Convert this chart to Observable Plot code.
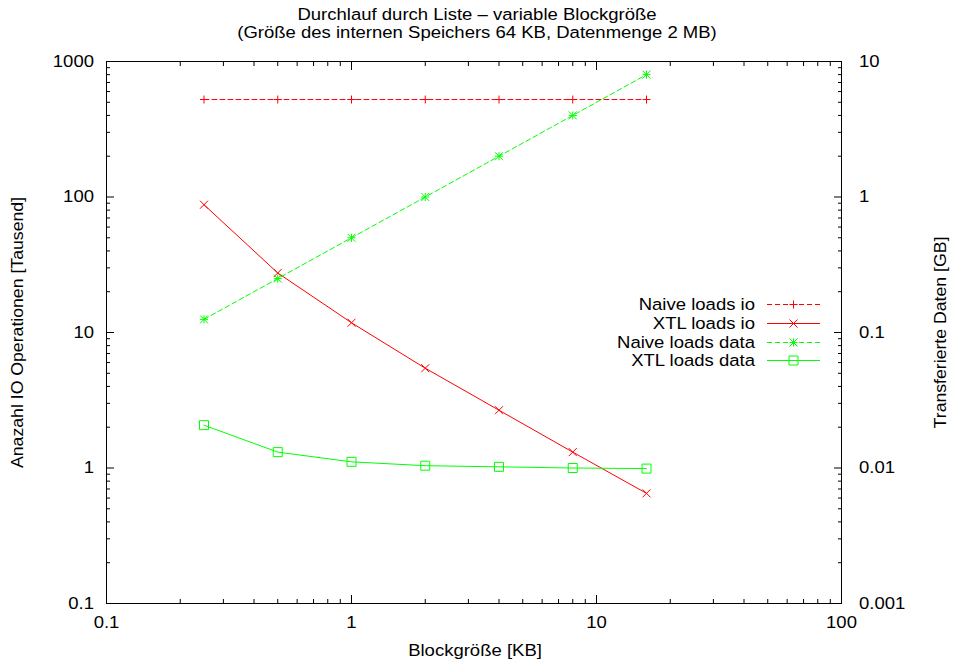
<!DOCTYPE html>
<html>
<head>
<meta charset="utf-8">
<script src="https://cdn.jsdelivr.net/npm/d3@7"></script>
<script src="https://cdn.jsdelivr.net/npm/@observablehq/plot@0.6"></script>
<style>
  body { margin: 0; background: #fff; }
  #chart { position: relative; width: 955px; height: 665px; }
  #chart svg { font-family: "Liberation Sans", Arial, Helvetica, sans-serif; }
  #legend { position: absolute; left: 0; top: 0; }
</style>
</head>
<body>
<div id="chart"></div>
<script>
// Block sizes in KB
const blockSizes = [0.25, 0.5, 1, 2, 4, 8, 16];
// IO operations in thousands (left axis)
const naiveLoadsIo = [524, 524, 524, 524, 524, 524, 524];
const xtlLoadsIo = [87.7, 27.5, 11.8, 5.45, 2.67, 1.31, 0.65];
// Transferred data in GB (right axis)
const naiveLoadsData = [0.125, 0.25, 0.5, 1, 2, 4, 8];
const xtlLoadsData = [0.0207, 0.0131, 0.0111, 0.0104, 0.0102, 0.0100, 0.0099];

const seriesNames = ["Naive loads io", "XTL loads io", "Naive loads data", "XTL loads data"];

// Axis ticks
const xTicks = [0.1, 1, 10, 100];
const yTicks = [0.1, 1, 10, 100, 1000];
const y2Ticks = [0.001, 0.01, 0.1, 1, 10];

const titleLines = [
  "Durchlauf durch Liste \u2013 variable Blockgr\u00f6\u00dfe",
  "(Gr\u00f6\u00dfe des internen Speichers 64 KB, Datenmenge 2 MB)"
];
const xLabel = "Blockgr\u00f6\u00dfe [KB]";
const yLabel = "Anazahl IO Operationen [Tausend]";
const y2Label = "Transferierte Daten [GB]";

// The right axis covers the same decades as the left one, shifted by a constant factor
const y2Factor = Math.round(yTicks[0] / y2Ticks[0]);

// Minor log ticks 2..9 within each decade
const minorOf = (majors) => majors.slice(0, -1).flatMap(d => d3.range(2, 10).map(k => +(k * d).toPrecision(3)));
const xMinor = minorOf(xTicks);
const yMinor = minorOf(yTicks);

// Point symbols (fixed pixel sizes)
const R = 4;
const symbols = {
  plus: {draw(c) { c.moveTo(-R, 0); c.lineTo(R, 0); c.moveTo(0, -R); c.lineTo(0, R); }},
  times: {draw(c) { c.moveTo(-R, -R); c.lineTo(R, R); c.moveTo(-R, R); c.lineTo(R, -R); }},
  star: {draw(c) {
    c.moveTo(-R, 0); c.lineTo(R, 0); c.moveTo(0, -R); c.lineTo(0, R);
    c.moveTo(-R, -R); c.lineTo(R, R); c.moveTo(-R, R); c.lineTo(R, -R);
  }},
  box: {draw(c) { const r = 4.5; c.moveTo(-r, -r); c.lineTo(r, -r); c.lineTo(r, r); c.lineTo(-r, r); c.closePath(); }}
};

const styles = [
  {name: seriesNames[0], values: naiveLoadsIo, scale: 1, color: "#ff0000", dash: "5,3", symbol: symbols.plus},
  {name: seriesNames[1], values: xtlLoadsIo, scale: 1, color: "#ff0000", dash: null, symbol: symbols.times},
  {name: seriesNames[2], values: naiveLoadsData, scale: y2Factor, color: "#00ff00", dash: "5,3", symbol: symbols.star},
  {name: seriesNames[3], values: xtlLoadsData, scale: y2Factor, color: "#00ff00", dash: null, symbol: symbols.box}
];

const FS = 17;
const seriesMarks = styles.flatMap(s => {
  const rows = blockSizes.map((b, i) => ({block: b, value: s.values[i]}));
  const y = d => d.value * s.scale;
  return [
    Plot.line(rows, {x: "block", y, stroke: s.color, strokeWidth: 1, strokeDasharray: s.dash}),
    Plot.dot(rows, {x: "block", y, symbol: s.symbol, stroke: s.color, fill: "none", strokeWidth: 1})
  ];
});

const tickAxes = [
  // inward ticks on all four sides
  Plot.axisX({anchor: "bottom", ticks: xTicks, tickSize: 8, dy: -8, fill: "none", label: null, tickFormat: () => ""}),
  Plot.axisX({anchor: "bottom", ticks: xMinor, tickSize: 4, dy: -4, fill: "none", label: null, tickFormat: () => ""}),
  Plot.axisX({anchor: "top", ticks: xTicks, tickSize: 8, dy: 8, fill: "none", label: null, tickFormat: () => ""}),
  Plot.axisX({anchor: "top", ticks: xMinor, tickSize: 4, dy: 4, fill: "none", label: null, tickFormat: () => ""}),
  Plot.axisY({anchor: "left", ticks: yTicks, tickSize: 8, dx: 8, fill: "none", label: null, tickFormat: () => ""}),
  Plot.axisY({anchor: "left", ticks: yMinor, tickSize: 4, dx: 4, fill: "none", label: null, tickFormat: () => ""}),
  Plot.axisY({anchor: "right", ticks: yTicks, tickSize: 8, dx: -8, fill: "none", label: null, tickFormat: () => ""}),
  Plot.axisY({anchor: "right", ticks: yMinor, tickSize: 4, dx: -4, fill: "none", label: null, tickFormat: () => ""})
];

const labelAxes = [
  Plot.axisX({anchor: "bottom", ticks: xTicks, tickSize: 0, tickPadding: 12.5, fontSize: FS, label: null, tickFormat: d => String(d)}),
  Plot.axisY({anchor: "left", ticks: yTicks, tickSize: 0, tickPadding: 12.5, fontSize: FS, label: null, tickFormat: d => String(d)}),
  Plot.axisY({anchor: "right", ticks: yTicks, tickSize: 0, tickPadding: 17.5, fontSize: FS, label: null,
    tickFormat: d => String(y2Ticks[yTicks.indexOf(d)])})
];

const common = {fontSize: FS, fill: "black", lineAnchor: "middle", textAnchor: "middle"};
const textMarks = [
  Plot.text([titleLines[0]], {...common, frameAnchor: "top", dx: 3, dy: -46.5}),
  Plot.text([titleLines[1]], {...common, frameAnchor: "top", dx: 3, dy: -29}),
  Plot.text([xLabel], {...common, frameAnchor: "bottom", dx: 1, dy: 47.5}),
  Plot.text([yLabel], {...common, frameAnchor: "left", dx: -88.5, rotate: -90}),
  Plot.text([y2Label], {...common, frameAnchor: "right", dx: 99.5, rotate: -90})
];

const chart = Plot.plot({
  width: 955,
  height: 665,
  marginLeft: 106,
  marginRight: 114,
  marginTop: 61,
  marginBottom: 62,
  style: {background: "#fff", color: "black", fontFamily: "Liberation Sans, Arial, sans-serif", fontSize: FS + "px"},
  x: {type: "log", domain: [xTicks[0], xTicks[xTicks.length - 1]], label: null},
  y: {type: "log", domain: [yTicks[0], yTicks[yTicks.length - 1]], label: null},
  marks: [
    ...seriesMarks,
    Plot.frame({stroke: "black", strokeWidth: 1}),
    ...tickAxes,
    ...labelAxes,
    ...textMarks
  ]
});
document.getElementById("chart").appendChild(chart);

// The lettering is set slightly wide: stretch each label along its baseline about its anchor
function stretch(el, s) {
  const t = el.getAttribute("transform") || "";
  const x = parseFloat(el.getAttribute("x")) || 0;
  el.removeAttribute("x");
  el.setAttribute("transform", `${t} translate(${x},0) scale(${s},1)`);
}
chart.querySelectorAll("text").forEach(el => {
  const rotated = /rotate/.test(el.getAttribute("transform") || "") || /rotate/.test(el.parentNode.getAttribute("transform") || "");
  stretch(el, rotated ? 1.04 : 1.09);
});

// Key inside the plot area, right side
const legend = d3.select("#chart").append("svg")
  .attr("id", "legend")
  .attr("width", 955).attr("height", 665)
  .style("font-family", "Liberation Sans, Arial, sans-serif")
  .style("font-size", FS + "px");
const keyTextRight = 755, keyLine = [767, 820], keyTop = 304, keyStep = 18.8;
styles.forEach((s, i) => {
  const yy = Math.round(keyTop + i * keyStep) + 0.5;
  const g = legend.append("g");
  const label = g.append("text").attr("x", keyTextRight).attr("y", yy).attr("dy", "0.35em")
    .attr("text-anchor", "end").attr("fill", "black").text(s.name);
  stretch(label.node(), 1.09);
  g.append("line").attr("x1", keyLine[0]).attr("x2", keyLine[1]).attr("y1", yy).attr("y2", yy)
    .attr("stroke", s.color).attr("stroke-width", 1).attr("stroke-dasharray", s.dash);
  g.append("path").attr("transform", `translate(${(keyLine[0] + keyLine[1]) / 2},${yy})`)
    .attr("d", d3.symbol(s.symbol)()).attr("stroke", s.color).attr("fill", "none");
});
</script>
</body>
</html>
